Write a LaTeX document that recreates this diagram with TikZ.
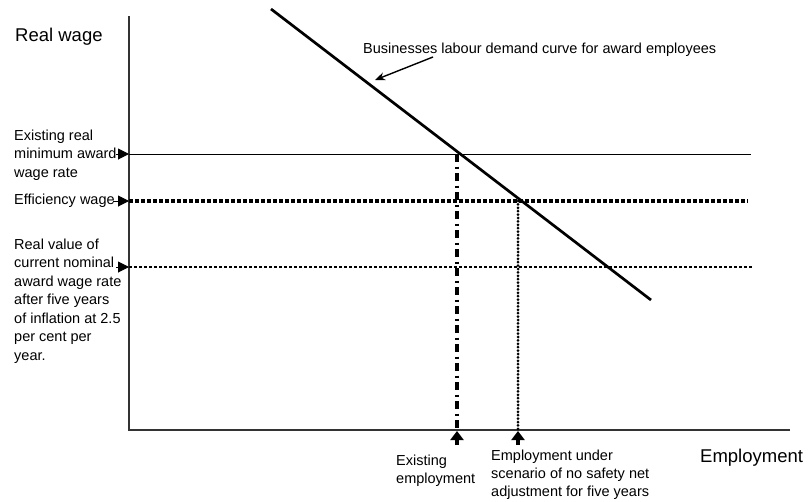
\documentclass[tikz,border=0pt]{standalone}
\usepackage{fontspec}
\setmainfont{Liberation Sans}
\usetikzlibrary{arrows.meta}
\begin{document}
\begin{tikzpicture}[x=1pt,y=-1pt,
  lbl/.style={font=\fontsize{14.5}{18.5}\selectfont, align=left, inner sep=0pt, anchor=west},
  blbl/.style={font=\fontsize{14.5}{18}\selectfont, align=left, inner sep=0pt, anchor=west},
  big/.style={font=\fontsize{18.5}{22}\selectfont, inner sep=0pt, anchor=west},
  axis/.style={line width=1.2pt, draw=black!80},
  rtip/.style={-{Triangle[length=11pt,width=11pt]}, line width=1pt},
  uptip/.style={-{Triangle[length=9pt,width=13pt]}, line width=4.5pt},
  wageline/.style={line width=0.8pt},
  effline/.style={line width=3.4pt, dash pattern=on 4pt off 2pt},
  realline/.style={line width=1.3pt, dash pattern=on 3pt off 2pt},
  demand/.style={line width=2.7pt},
  existline/.style={line width=3.2pt, dash pattern=on 8pt off 4.5pt on 2pt off 4.5pt},
  noadjline/.style={line width=3pt, line cap=round, dash pattern=on 0pt off 3.4pt},
  callout/.style={line width=1.4pt, -{Stealth[length=10pt,width=8pt]}},
]
\useasboundingbox (0,0) rectangle (811,501);

% axes
\coordinate (O) at (129,430);
\coordinate (Ytop) at (129,16);
\coordinate (Xend) at (790,430);
\draw[axis] (Ytop) -- (O) -- (Xend);

% axis labels
\node[big] (ylab) at (15,37) {Real wage};
\node[big] (xlab) at (700,458) {Employment};

% horizontal wage lines
\coordinate (w1a) at (129,154); \coordinate (w1b) at (751,154);
\coordinate (w2a) at (129,201); \coordinate (w2b) at (748,201);
\coordinate (w3a) at (129,267); \coordinate (w3b) at (752,267);
\draw[wageline] (w1a) -- (w1b);
\draw[effline] (w2a) -- (w2b);
\draw[realline] (w3a) -- (w3b);

% demand curve
\coordinate (d1) at (271,9);
\coordinate (d2) at (651,300);
\draw[demand] (d1) -- (d2);

% vertical lines
\coordinate (e1) at (457,154); \coordinate (e2) at (457,430);
\coordinate (n1) at (518,201); \coordinate (n2) at (518,430);
\draw[existline] (e1) -- (e2);
\draw[noadjline] (n1) -- (n2);

% left labels
\node[lbl] (l1) at (14,155) {Existing real\\minimum award\\wage rate};
\node[lbl] (l2) at (14,201) {Efficiency wage};
\node[lbl] (l3) at (14,301) {Real value of\\current nominal\\award wage rate\\after five years\\of inflation at 2.5\\per cent per\\year.};

% left arrows
\coordinate (a1) at (116,154);
\coordinate (a2) at (113,201);
\coordinate (a3) at (116,267);
\draw[rtip] (a1) -- (w1a);
\draw[rtip] (a2) -- (w2a);
\draw[rtip] (a3) -- (w3a);

% bottom labels and arrows
\node[blbl] (b1) at (396,471) {Existing\\employment};
\node[blbl] (b2) at (491,475) {Employment under\\scenario of no safety net\\adjustment for five years};
\coordinate (u1s) at (457,445); \coordinate (u1t) at (457,431);
\coordinate (u2s) at (518,445); \coordinate (u2t) at (518,431);
\draw[uptip] (u1s) -- (u1t);
\draw[uptip] (u2s) -- (u2t);

% demand label
\node[lbl] (dem) at (363,50) {Businesses labour demand curve for award employees};
\coordinate (demstart) at (433,57);
\coordinate (oncurve) at (375,80);
\draw[callout] (demstart) -- (oncurve);
\end{tikzpicture}
\end{document}
